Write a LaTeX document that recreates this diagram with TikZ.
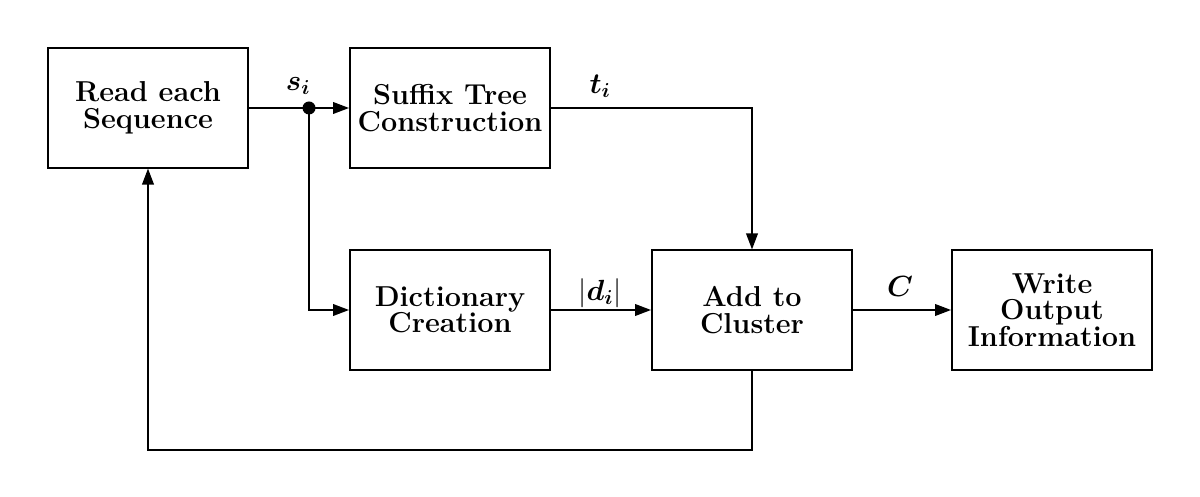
\documentclass[tikz,border=0pt]{standalone}
\usepackage{amsmath,bm}
\usetikzlibrary{arrows.meta}
\begin{document}
\begin{tikzpicture}[x=0.025cm,y=-0.025cm,
  blk/.style={draw,line width=1.3pt,minimum width=5.0cm,minimum height=2.98cm,align=center,font=\fontsize{20.5}{18.8}\selectfont\bfseries,inner sep=2pt},
  conn/.style={line width=1.3pt,-{Triangle[length=4mm,width=2.9mm]}},
  lbl/.style={font=\fontsize{21.5}{24}\selectfont}]
\useasboundingbox (0,0) rectangle (1200,497);
\node[blk] (read) at (148,108) {Read each\\Sequence};
\node[blk] (suf) at (450,108) {Suffix Tree\\Construction};
\node[blk] (dict) at (450,310) {Dictionary\\Creation};
\node[blk] (add) at (752,310) {Add to\\Cluster};
\node[blk] (out) at (1052,310) {Write\\Output\\Information};
\coordinate (dot) at (309,108);
\coordinate (fb) at (752,450);
\coordinate (fb2) at (148,450);
\draw[line width=1.3pt] (read.east) -- (dot);
\draw[conn] (dot) -- (suf.west);
\draw[conn] (dot) |- (dict.west);
\fill (dot) circle (6.5);
\draw[conn] (suf.east) -| (add.north);
\draw[conn] (dict.east) -- (add.west);
\draw[conn] (add.east) -- (out.west);
\draw[conn] (add.south) -- (fb) -- (fb2) -- (read.south);
\node[lbl] (ls) at (298,86) {$\bm{s_i}$};
\node[lbl] (lt) at (600,86) {$\bm{t_i}$};
\node[lbl] (ld) at (600,293) {$|\bm{d_i}|$};
\node[lbl] (lc) at (900,286) {$\bm{C}$};
\end{tikzpicture}
\end{document}
